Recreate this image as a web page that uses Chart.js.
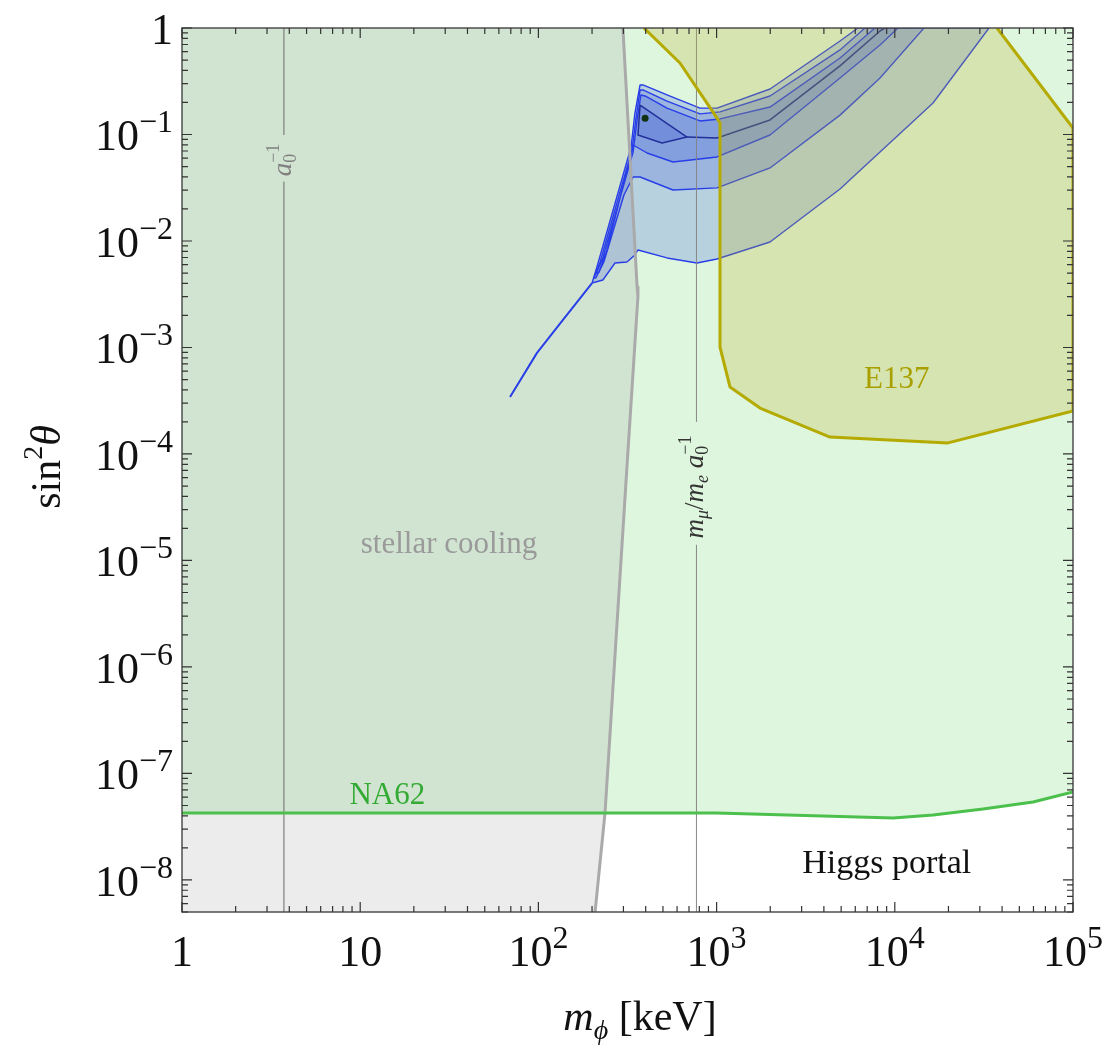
<!DOCTYPE html>
<html>
<head>
<meta charset="utf-8">
<script src="https://cdn.jsdelivr.net/npm/chart.js@4.4.1/dist/chart.umd.min.js"></script>
<style>
  html, body { margin: 0; padding: 0; background: #fff; }
  canvas { display: block; }
</style>
</head>
<body>
<canvas id="grafico" width="1104" height="1049"></canvas>
<script>
// Valores: x = m_phi en keV, y = sin^2(theta)
const xTicks = [1, 10, 100, 1000, 10000, 100000];
const xTickLabels = ['1', '10', '10^2', '10^3', '10^4', '10^5'];
const yTicks = [1, 1e-1, 1e-2, 1e-3, 1e-4, 1e-5, 1e-6, 1e-7, 1e-8];
const yTickLabels = ['1', '10^−1', '10^−2', '10^−3', '10^−4', '10^−5', '10^−6', '10^−7', '10^−8'];

// Límite NA62
const na62X = [1, 1000, 9800, 16400, 31300, 59700, 100000];
const na62Y = [4.26e-8, 4.26e-8, 3.82e-8, 4.07e-8, 4.64e-8, 5.4e-8, 6.7e-8];

// Línea de enfriamiento estelar
const estelarX = [298, 358, 362, 314, 236.5, 208];
const estelarY = [1, 0.0037, 0.00304, 7.55e-5, 4.26e-8, 5e-9];

// Región E137
const e137X = [391, 623, 980, 1045, 1045, 1189, 1752, 4328, 19890, 100000, 100000, 37460];
const e137Y = [1, 0.469, 0.152, 0.128, 1.01e-3, 4.26e-4, 2.7e-4, 1.44e-4, 1.27e-4, 2.53e-4, 0.115, 1];

// Contornos azules (de afuera hacia adentro)
const nivel1X = [200, 213, 331, 348, 372, 386, 527, 807, 1005, 1994, 4926, 6217, 33780, 16390, 4926, 1994, 1005, 776, 527, 362, 348, 314, 269, 230];
const nivel1Y = [0.00403, 0.0057, 0.0763, 0.159, 0.292, 0.292, 0.235, 0.177, 0.177, 0.2675, 0.755, 1, 1, 0.1976, 0.0308, 0.00979, 0.00678, 0.00621, 0.00693, 0.00823, 0.00739, 0.00635, 0.00621, 0.0043];
const nivel2X = [205, 222, 335, 353, 372, 386, 527, 807, 1045, 1994, 4926, 6805, 14580, 8261, 4926, 1994, 1005, 569, 372, 340, 302, 233, 210];
const nivel2Y = [0.00449, 0.00635, 0.0715, 0.143, 0.262, 0.262, 0.206, 0.156, 0.163, 0.23, 0.622, 1, 1, 0.339, 0.152, 0.0485, 0.0315, 0.0301, 0.0399, 0.0399, 0.027, 0.00635, 0.00449];
const nivel3X = [210, 230, 340, 358, 376, 397, 527, 807, 1045, 1994, 4926, 7745, 10420, 8261, 4926, 1994, 1005, 569, 407, 340, 314, 243, 219];
const nivel3Y = [0.0049, 0.00693, 0.0685, 0.137, 0.235, 0.23, 0.177, 0.134, 0.14, 0.181, 0.523, 1, 1, 0.692, 0.339, 0.0989, 0.0615, 0.0552, 0.067, 0.0797, 0.0464, 0.00823, 0.00511];
const nucleoX = [372, 682, 494, 362];
const nucleoY = [0.189, 0.0947, 0.0832, 0.0989];
const lineaNucleoX = [682, 1005, 1994, 4926, 8261, 8810];
const lineaNucleoY = [0.0947, 0.0927, 0.137, 0.44, 0.937, 1];
const colaX = [69.3, 98.2, 137, 200];
const colaY = [3.43e-4, 8.9e-4, 1.81e-3, 4.03e-3];
const mejorX = [397];
const mejorY = [0.142];

// Líneas verticales de referencia (a0^-1 y m_mu/m_e a0^-1)
const guiaA0 = 3.73;
const guiaMu = 771;

const X_MIN = 1, X_MAX = 1e5, Y_MIN = 5e-9, Y_MAX = 1;

const pts = (xs, ys) => xs.map((x, i) => ({ x: x, y: ys[i] }));
const cerrar = (xs, ys) => pts(xs.concat([xs[0]]), ys.concat([ys[0]]));

function capa(data, opciones) {
  return Object.assign({
    data: data, pointRadius: 0, pointHoverRadius: 0, borderWidth: 0,
    tension: 0, fill: false, spanGaps: false, borderJoinStyle: 'round'
  }, opciones);
}

// Región verde sobre NA62
const verde = pts(na62X.concat([X_MAX, X_MIN, X_MIN]), na62Y.concat([Y_MAX, Y_MAX, na62Y[0]]));
// Región gris a la izquierda de la línea estelar
const gris = pts([X_MIN].concat(estelarX, [X_MIN, X_MIN]), [Y_MAX].concat(estelarY, [Y_MIN, Y_MAX]));

function guia(x, corte1, corte2) {
  return [{ x: x, y: Y_MAX }, { x: x, y: corte1 }, { x: x, y: null }, { x: x, y: corte2 }, { x: x, y: Y_MIN }];
}

const azulLinea = 'rgb(40,62,232)';
const azulRelleno = 'rgba(50,80,225,0.22)';

const datasets = [
  capa(verde, { fill: 'shape', backgroundColor: 'rgba(80,200,80,0.19)', order: 30 }),
  capa(gris, { fill: 'shape', backgroundColor: 'rgba(150,150,150,0.18)', order: 29 }),
  capa(cerrar(nivel1X, nivel1Y), { fill: 'shape', backgroundColor: azulRelleno, borderColor: azulLinea, borderWidth: 1.4, order: 25 }),
  capa(cerrar(nivel2X, nivel2Y), { fill: 'shape', backgroundColor: azulRelleno, borderColor: azulLinea, borderWidth: 1.4, order: 24 }),
  capa(cerrar(nivel3X, nivel3Y), { fill: 'shape', backgroundColor: azulRelleno, borderColor: azulLinea, borderWidth: 1.4, order: 23 }),
  capa(cerrar(nucleoX, nucleoY), { fill: 'shape', backgroundColor: 'rgba(50,75,210,0.2)', borderColor: '#22309a', borderWidth: 1.5, order: 22 }),
  capa(pts(lineaNucleoX, lineaNucleoY), { borderColor: '#22309a', borderWidth: 1.6, order: 22 }),
  capa(pts(colaX, colaY), { borderColor: azulLinea, borderWidth: 2, order: 22 }),
  capa(guia(guiaA0, 0.099, 0.036), { borderColor: 'rgba(130,130,130,0.55)', borderWidth: 1, order: 20 }),
  capa(guia(guiaMu, 2.0e-4, 1.4e-5), { borderColor: 'rgba(130,130,130,0.55)', borderWidth: 1, order: 20 }),
  capa(cerrar(e137X, e137Y), { fill: 'shape', backgroundColor: 'rgba(188,178,40,0.25)', order: 15 }),
  capa(pts(e137X, e137Y), { borderColor: '#b4aa00', borderWidth: 3, order: 14 }),
  capa(pts(estelarX, estelarY), { borderColor: '#aaaaaa', borderWidth: 3, order: 10 }),
  capa(pts(na62X, na62Y), { borderColor: '#4cc04c', borderWidth: 3, order: 9 }),
  capa(pts(mejorX, mejorY), { showLine: false, pointRadius: 3.5, pointBackgroundColor: '#123212', pointBorderWidth: 0, order: 1 })
];

// Textos dentro del gráfico (posición en coordenadas de datos)
const F = '"Liberation Serif", "Times New Roman", serif';
const etiquetas = [
  { partes: [{ t: 'stellar cooling', f: 31 }], x: 31.5, y: 1.175e-5, color: '#9a9a9a' },
  { partes: [{ t: 'NA62', f: 31 }], x: 14.2, y: 5.17e-8, color: '#33aa33' },
  { partes: [{ t: 'E137', f: 31 }], x: 10250, y: 4.17e-4, color: '#a9a000' },
  { partes: [{ t: 'Higgs portal', f: 34 }], x: 9010, y: 1.16e-8, color: '#111111' },
  { partes: [{ t: 'a', f: 27, it: true }, { t: '0', f: 18, dy: 5 }, { t: '−1', f: 18, dy: -12, sobre: true }],
    x: guiaA0, y: 0.0576, color: '#808080', rot: -Math.PI / 2, dx: 7 },
  { partes: [{ t: 'm', f: 27, it: true }, { t: 'μ', f: 18, it: true, dy: 5 }, { t: '/', f: 27 },
             { t: 'm', f: 27, it: true }, { t: 'e', f: 18, it: true, dy: 5 }, { t: ' ', f: 27 },
             { t: 'a', f: 27, it: true }, { t: '0', f: 18, dy: 5 }, { t: '−1', f: 18, dy: -12, sobre: true }],
    x: guiaMu, y: 4.9e-5, color: '#333333', rot: -Math.PI / 2, dx: 7 }
];

function fuente(p) { return (p.it ? 'italic ' : '') + p.f + 'px ' + F; }

// Dibuja un texto con sub/superíndices
function textoRico(ctx, partes, x, y, alinear, rot) {
  ctx.save();
  ctx.translate(x, y);
  if (rot) ctx.rotate(rot);
  ctx.textAlign = 'left';
  ctx.textBaseline = 'alphabetic';
  let ancho = 0, prev = 0;
  partes.forEach(p => {
    ctx.font = fuente(p);
    p.w = ctx.measureText(p.t).width;
    if (p.sobre) { ancho = Math.max(ancho, prev + p.w); }
    else { prev = ancho; ancho += p.w; }
  });
  let cx = alinear === 'center' ? -ancho / 2 : (alinear === 'right' ? -ancho : 0);
  let inicioPrev = cx;
  partes.forEach(p => {
    ctx.font = fuente(p);
    const px = p.sobre ? inicioPrev : cx;
    ctx.fillText(p.t, px, p.dy || 0);
    if (!p.sobre) { inicioPrev = cx; cx += p.w; }
  });
  ctx.restore();
}

function partesTick(txt, base, exp) {
  const s = txt.split('^');
  const r = [{ t: s[0], f: base }];
  if (s[1]) r.push({ t: s[1], f: exp, dy: -18 });
  return r;
}

const decoracion = {
  id: 'decoracion',
  afterDatasetsDraw(chart) {
    const { ctx, scales } = chart;
    const a = chart.chartArea;
    etiquetas.forEach(e => {
      ctx.fillStyle = e.color;
      const px = scales.x.getPixelForValue(e.x) + (e.dx || 0);
      const py = scales.y.getPixelForValue(e.y);
      textoRico(ctx, e.partes, px, py, 'center', e.rot);
    });

    // Marco
    ctx.save();
    ctx.strokeStyle = '#444';
    ctx.lineWidth = 1.4;
    ctx.strokeRect(a.left, a.top, a.right - a.left, a.bottom - a.top);

    // Marcas hacia adentro en los cuatro lados
    ctx.strokeStyle = '#333';
    ctx.lineWidth = 1.2;
    ctx.beginPath();
    for (let k = 0; k <= 5; k++) {
      for (let m = 1; m <= 9; m++) {
        const v = m * Math.pow(10, k);
        if (v < X_MIN || v > X_MAX) continue;
        const px = scales.x.getPixelForValue(v);
        const l = m === 1 ? 10 : 6;
        ctx.moveTo(px, a.bottom); ctx.lineTo(px, a.bottom - l);
        ctx.moveTo(px, a.top); ctx.lineTo(px, a.top + l);
      }
    }
    for (let k = -9; k <= 0; k++) {
      for (let m = 1; m <= 9; m++) {
        const v = m * Math.pow(10, k);
        if (v < Y_MIN * 0.999 || v > Y_MAX * 1.001) continue;
        const py = scales.y.getPixelForValue(v);
        const l = m === 1 ? 10 : 6;
        ctx.moveTo(a.left, py); ctx.lineTo(a.left + l, py);
        ctx.moveTo(a.right, py); ctx.lineTo(a.right - l, py);
      }
    }
    ctx.stroke();
    ctx.restore();

    // Etiquetas de los ejes
    ctx.fillStyle = '#111';
    xTicks.forEach((v, i) => {
      textoRico(ctx, partesTick(xTickLabels[i], 44, 32), scales.x.getPixelForValue(v), 966, 'center');
    });
    yTicks.forEach((v, i) => {
      textoRico(ctx, partesTick(yTickLabels[i], 44, 32), 173, scales.y.getPixelForValue(v) + 16, 'right');
    });

    // Títulos de los ejes
    textoRico(ctx, [{ t: 'm', f: 42, it: true }, { t: 'ϕ', f: 28, it: true, dy: 9 }, { t: ' [keV]', f: 42 }],
      640, 1030, 'center');
    textoRico(ctx, [{ t: 'sin', f: 42 }, { t: '2', f: 28, dy: -18 }, { t: 'θ', f: 42, it: true }],
      60, 467, 'center', -Math.PI / 2);
  }
};

const grafico = new Chart(document.getElementById('grafico'), {
  type: 'line',
  data: { datasets: datasets },
  options: {
    responsive: false,
    animation: false,
    devicePixelRatio: 1,
    layout: { padding: { top: 28, right: 31, left: 0, bottom: 0 } },
    plugins: { legend: { display: false }, tooltip: { enabled: false } },
    scales: {
      x: {
        type: 'logarithmic', min: X_MIN, max: X_MAX,
        grid: { display: false }, border: { display: false }, ticks: { display: false },
        afterFit: s => { s.height = 137; }
      },
      y: {
        type: 'logarithmic', min: Y_MIN, max: Y_MAX,
        grid: { display: false }, border: { display: false }, ticks: { display: false },
        afterFit: s => { s.width = 182; }
      }
    }
  },
  plugins: [decoracion]
});
</script>
</body>
</html>
